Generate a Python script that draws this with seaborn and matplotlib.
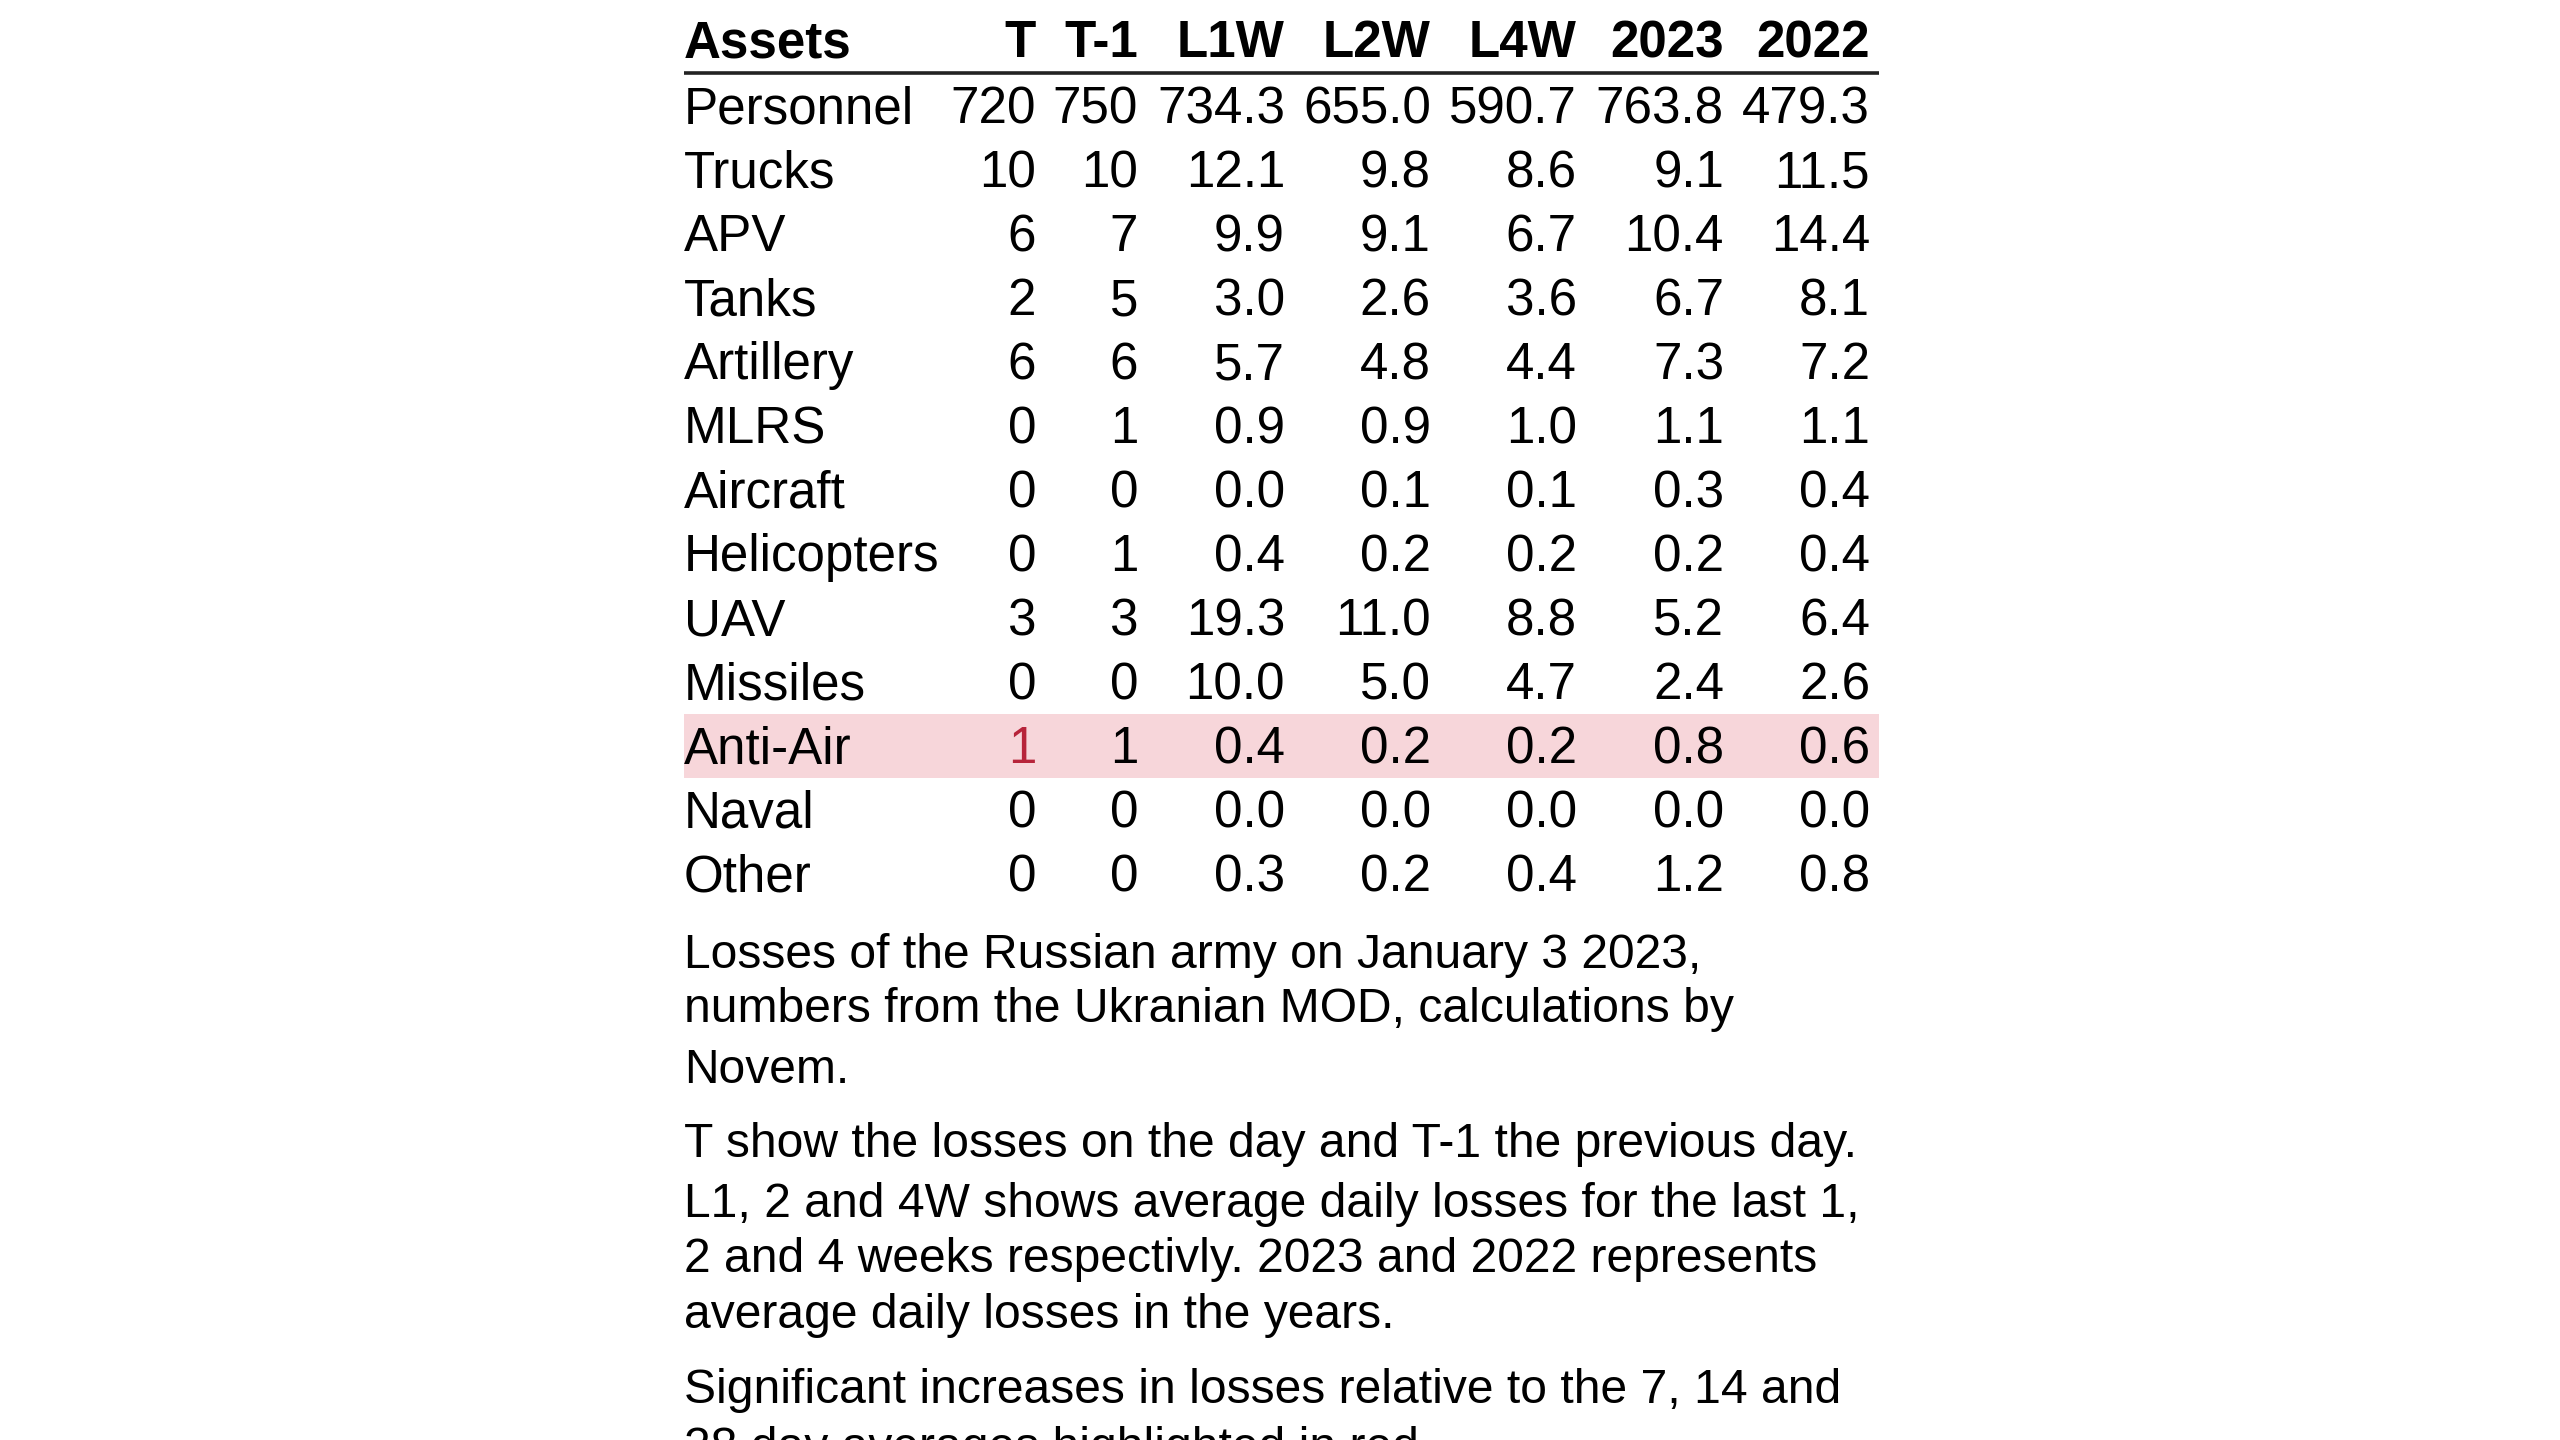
import numpy as np
import matplotlib
matplotlib.use('Agg')
import matplotlib.pyplot as plt
import matplotlib.transforms as mtransforms
from matplotlib.colors import ListedColormap
import seaborn as sns

assets = ['Personnel', 'Trucks', 'APV', 'Tanks', 'Artillery', 'MLRS', 'Aircraft',
          'Helicopters', 'UAV', 'Missiles', 'Anti-Air', 'Naval', 'Other']
t_day = [720, 10, 6, 2, 6, 0, 0, 0, 3, 0, 1, 0, 0]
t_prev = [750, 10, 7, 5, 6, 1, 0, 1, 3, 0, 1, 0, 0]
l1w = [734.3, 12.1, 9.9, 3.0, 5.7, 0.9, 0.0, 0.4, 19.3, 10.0, 0.4, 0.0, 0.3]
l2w = [655.0, 9.8, 9.1, 2.6, 4.8, 0.9, 0.1, 0.2, 11.0, 5.0, 0.2, 0.0, 0.2]
l4w = [590.7, 8.6, 6.7, 3.6, 4.4, 1.0, 0.1, 0.2, 8.8, 4.7, 0.2, 0.0, 0.4]
y2023 = [763.8, 9.1, 10.4, 6.7, 7.3, 1.1, 0.3, 0.2, 5.2, 2.4, 0.8, 0.0, 1.2]
y2022 = [479.3, 11.5, 14.4, 8.1, 7.2, 1.1, 0.4, 0.4, 6.4, 2.6, 0.6, 0.0, 0.8]
headers = ['Assets', 'T', 'T-1', 'L1W', 'L2W', 'L4W', '2023', '2022']
highlight_rows = ['Anti-Air']
red_cells = [('Anti-Air', 'T')]

captions = [
    ['Losses of the Russian army on January 3 2023,',
     'numbers from the Ukranian MOD, calculations by',
     'Novem.'],
    ['T show the losses on the day and T-1 the previous day.',
     'L1, 2 and 4W shows average daily losses for the last 1,',
     '2 and 4 weeks respectivly. 2023 and 2022 represents',
     'average daily losses in the years.'],
    ['Significant increases in losses relative to the 7, 14 and',
     '28 day averages highlighted in red.'],
]

sns.set_theme(style='white')
plt.rcParams['font.family'] = ['Liberation Sans', 'DejaVu Sans']

W, H = 2560, 1440
FS = 36.8
FS_NOTE = 34.6
RED = '#B7243A'
PINK = '#F7D6DA'

# layout in pixels
left, right = 684, 1879
body_top, row_h = 74, 64
n = len(assets)
col_right = [1036, 1138, 1285, 1431, 1577, 1724, 1870]

fig = plt.figure(figsize=(W / 100, H / 100), dpi=100)

# table body: seaborn heatmap used for the row highlight
ax = fig.add_axes([left / W, 1 - (body_top + n * row_h) / H,
                   (right - left) / W, n * row_h / H])
mask = np.array([[1.0 if a in highlight_rows else 0.0] for a in assets])
sns.heatmap(mask, cmap=ListedColormap(['white', PINK]), vmin=0, vmax=1,
            cbar=False, xticklabels=False, yticklabels=False, ax=ax)
ax.set_axis_off()

trans = mtransforms.blended_transform_factory(ax.transAxes, ax.transData)
base_off = 49 / row_h

columns = [t_day, t_prev, l1w, l2w, l4w, y2023, y2022]
for i, name in enumerate(assets):
    yb = i + base_off
    ax.text(0, yb, name, transform=trans, ha='left', va='baseline',
            fontsize=FS, color='black')
    for j, col in enumerate(columns):
        v = col[i]
        s = f'{v:d}' if j < 2 else f'{v:.1f}'
        c = RED if (name, headers[j + 1]) in red_cells else 'black'
        x = (col_right[j] - left) / (right - left)
        ax.text(x, yb, s, transform=trans, ha='right', va='baseline',
                fontsize=FS, color=c)

# header, rule and notes on a pixel overlay
ov = fig.add_axes([0, 0, 1, 1])
ov.set_xlim(0, W)
ov.set_ylim(H, 0)
ov.set_axis_off()
ov.patch.set_alpha(0)

ov.text(left, 57, headers[0], ha='left', va='baseline', fontsize=FS,
        fontweight='bold', color='black')
for j, h in enumerate(headers[1:]):
    ov.text(col_right[j], 57, h, ha='right', va='baseline', fontsize=FS,
            fontweight='bold', color='black')
ov.plot([left, right], [73, 73], color='#222222', lw=2.6,
        solid_capstyle='butt')

caption_baselines = [[968, 1022, 1083], [1157, 1217, 1272, 1328], [1403, 1461]]
for para, ys in zip(captions, caption_baselines):
    for line, y in zip(para, ys):
        ov.text(left, y, line, ha='left', va='baseline', fontsize=FS_NOTE,
                color='black')

fig.savefig('out.png', dpi=100, facecolor='white')
